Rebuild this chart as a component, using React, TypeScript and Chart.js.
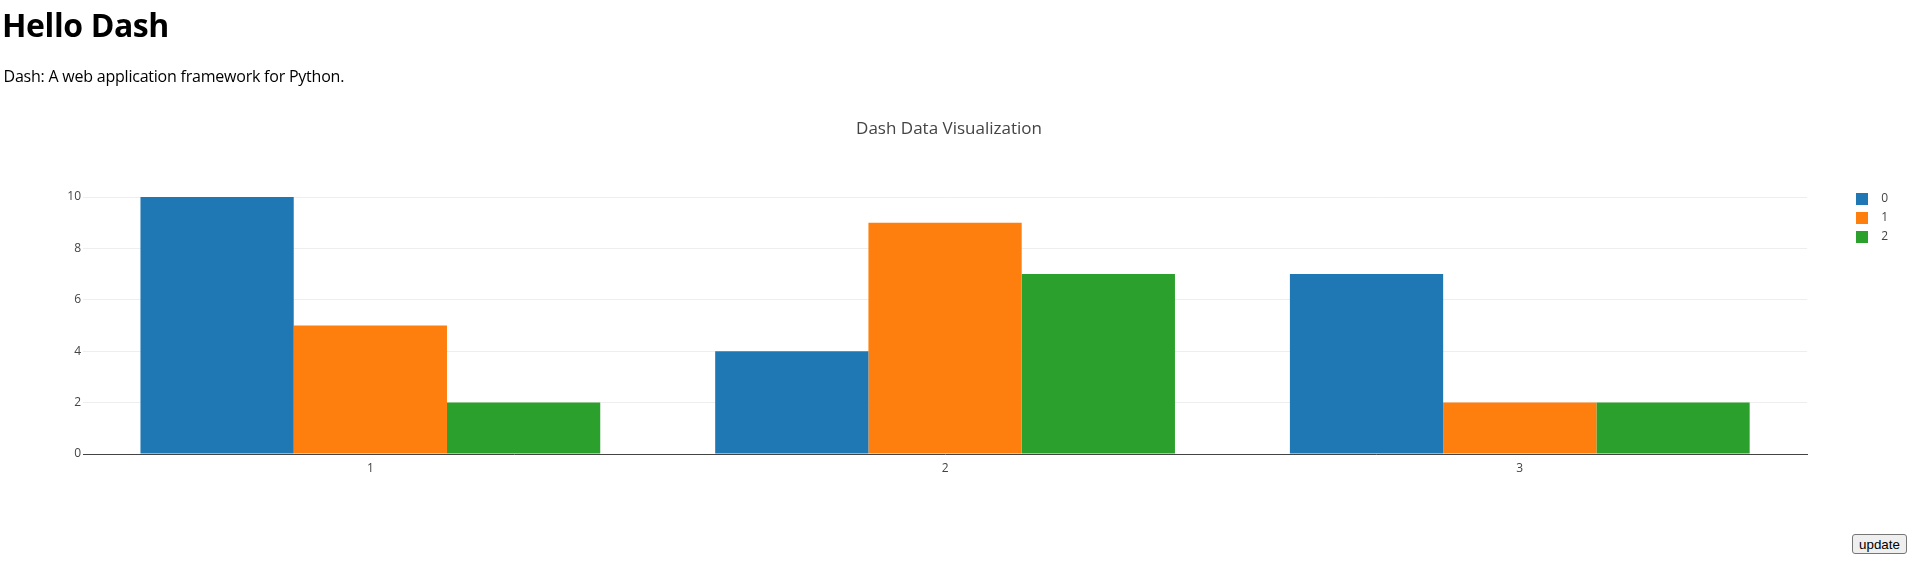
import React, { useEffect, useRef } from 'react';
import { Chart, registerables } from 'chart.js';

Chart.register(...registerables);

const categories = ['1', '2', '3'];
const seriesNames = ['0', '1', '2'];
const series0 = [10, 4, 7];
const series1 = [5, 9, 2];
const series2 = [2, 7, 2];
const seriesColors = ['#1f77b4', '#ff7f0e', '#2ca02c'];
const yTicks = [0, 2, 4, 6, 8, 10];
const yMax = 10.526;

const chartTitle = 'Dash Data Visualization';
const heading = 'Hello Dash';
const subheading = 'Dash: A web application framework for Python.';
const buttonLabel = 'update';

function swatch(color: string) {
  const c = document.createElement('canvas');
  c.width = 12;
  c.height = 12;
  const ctx = c.getContext('2d')!;
  ctx.fillStyle = color;
  ctx.fillRect(0, 0, 12, 12);
  return c;
}

function BarChart() {
  const ref = useRef<HTMLCanvasElement | null>(null);
  useEffect(() => {
    if (!ref.current) return;
    const values = [series0, series1, series2];
    const chart = new Chart(ref.current, {
      type: 'bar',
      data: {
        labels: categories,
        datasets: values.map((v, i) => ({
          label: seriesNames[i],
          data: v,
          backgroundColor: seriesColors[i],
          borderWidth: 0,
          categoryPercentage: 0.8,
          barPercentage: 1.0,
        })),
      },
      options: {
        responsive: false,
        animation: false,
        events: [],
        layout: { padding: { left: 0, top: 0, bottom: 0, right: 17 } },
        plugins: {
          tooltip: { enabled: false },
          title: {
            display: true,
            text: chartTitle,
            color: '#444',
            font: { family: 'Open Sans', size: 17, weight: 'normal', lineHeight: 1.2 },
            padding: { top: 119.3, bottom: 43.8 },
          },
          legend: {
            display: true,
            position: 'right',
            align: 'start',
            fullSize: false,
            title: { display: true, text: '', font: { size: 2.5, lineHeight: 1 }, padding: 0 },
            labels: {
              color: '#444',
              font: { family: 'Open Sans', size: 12 },
              padding: 7,
              usePointStyle: true,
              pointStyleWidth: 26,
              boxHeight: 12,
              generateLabels: (c: any) => {
                const items = (Chart.defaults.plugins.legend.labels as any).generateLabels(c);
                return items.map((it: any, i: number) => ({ ...it, pointStyle: swatch(seriesColors[i]) }));
              },
            },
          },
        },
        scales: {
          x: {
            grid: { display: false, drawTicks: false },
            border: { display: true, color: '#444', width: 1 },
            ticks: { color: '#444', font: { family: 'Open Sans', size: 12 }, padding: 7 },
            afterFit: (s: any) => { s.height = 119; },
          },
          y: {
            min: 0,
            max: yMax,
            grid: { color: '#eee', lineWidth: 1, drawTicks: false },
            border: { display: false },
            ticks: { color: '#444', font: { family: 'Open Sans', size: 12 }, padding: 2, stepSize: 2, includeBounds: false },
            afterBuildTicks: (s: any) => { s.ticks = yTicks.map((v) => ({ value: v })); },
            afterFit: (s: any) => { s.width = 83; },
          },
          y2: {
            type: 'linear',
            position: 'right',
            display: true,
            grid: { display: false, drawOnChartArea: false, drawTicks: false },
            border: { display: false },
            ticks: { display: false },
            afterFit: (s: any) => { s.width = 35; },
          },
        },
      } as any,
    });
    return () => chart.destroy();
  }, []);
  return (
    <canvas
      ref={ref}
      width={1915}
      height={573}
      style={{ position: 'absolute', left: 0, top: 0, width: 1915, height: 573 }}
    />
  );
}

export default function App() {
  return (
    <div style={{ position: 'absolute', left: 0, top: 0, width: 1915, height: 573, background: '#fff', overflow: 'hidden' }}>
      <BarChart />
      <div style={{ position: 'absolute', left: 2, top: 3, fontFamily: 'Open Sans', fontWeight: 700, fontSize: 32, letterSpacing: -0.4, color: '#000', whiteSpace: 'nowrap' }}>
        {heading}
      </div>
      <div style={{ position: 'absolute', left: 3.5, top: 64.6, fontFamily: 'Open Sans', fontSize: 16, letterSpacing: -0.22, color: '#000', whiteSpace: 'nowrap' }}>
        {subheading}
      </div>
      <button
        style={{
          position: 'absolute', left: 1852, top: 534, width: 55, height: 20, boxSizing: 'border-box',
          fontFamily: 'Liberation Sans', fontSize: 13.333, padding: '1px 6px', border: '1px solid #767676',
          borderRadius: 3, background: '#efefef', color: '#000',
        }}
      >
        {buttonLabel}
      </button>
    </div>
  );
}
